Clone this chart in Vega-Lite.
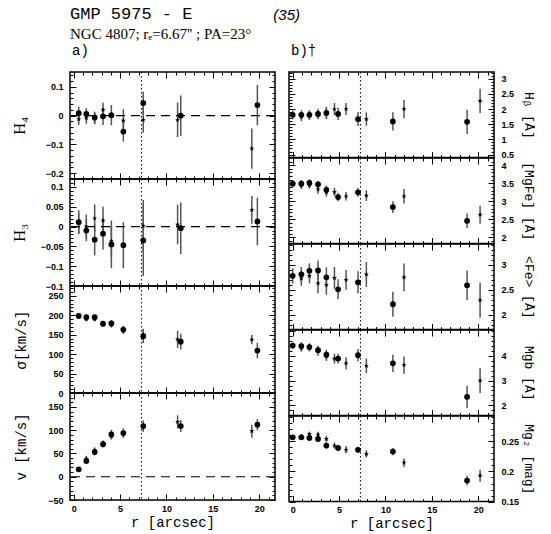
{
"$schema":"https://vega.github.io/schema/vega-lite/v6.json",
"padding":{"left":9,"top":4,"right":5,"bottom":5},
"datasets":{"pts":[
{"p":"H4","t":"c","r":0.54,"v":0.009,"e":0.022},{"p":"H4","t":"c","r":1.36,"v":0.006,"e":0.02},{"p":"H4","t":"c","r":2.26,"v":-0.006,"e":0.02},{"p":"H4","t":"c","r":3.16,"v":-0.002,"e":0.03},{"p":"H4","t":"c","r":4.06,"v":0.002,"e":0.035},{"p":"H4","t":"c","r":5.35,"v":-0.055,"e":0.035},{"p":"H4","t":"c","r":7.5,"v":0.044,"e":0.04},{"p":"H4","t":"c","r":11.54,"v":0,"e":0.07},{"p":"H4","t":"c","r":19.8,"v":0.037,"e":0.07},
{"p":"H4","t":"s","r":0.54,"v":-0.012,"e":0.02},{"p":"H4","t":"s","r":1.36,"v":-0.008,"e":0.02},{"p":"H4","t":"s","r":2.26,"v":-0.01,"e":0.02},{"p":"H4","t":"s","r":3.16,"v":0.02,"e":0.025},{"p":"H4","t":"s","r":5.35,"v":-0.017,"e":0.04},{"p":"H4","t":"s","r":7.5,"v":-0.014,"e":0.045},{"p":"H4","t":"s","r":11.2,"v":-0.014,"e":0.06},{"p":"H4","t":"s","r":19.2,"v":-0.114,"e":0.07},
{"p":"H3","t":"c","r":0.54,"v":0.011,"e":0.03},{"p":"H3","t":"c","r":1.36,"v":-0.01,"e":0.027},{"p":"H3","t":"c","r":2.26,"v":-0.033,"e":0.04},{"p":"H3","t":"c","r":3.16,"v":-0.018,"e":0.04},{"p":"H3","t":"c","r":4.06,"v":-0.045,"e":0.06},{"p":"H3","t":"c","r":5.35,"v":-0.047,"e":0.058},{"p":"H3","t":"c","r":7.5,"v":-0.035,"e":0.09},{"p":"H3","t":"c","r":11.54,"v":-0.004,"e":0.065},{"p":"H3","t":"c","r":19.8,"v":0.013,"e":0.06},
{"p":"H3","t":"s","r":0.54,"v":0.009,"e":0.025},{"p":"H3","t":"s","r":1.36,"v":0,"e":0.03},{"p":"H3","t":"s","r":2.26,"v":0.021,"e":0.035},{"p":"H3","t":"s","r":3.16,"v":0.015,"e":0.035},{"p":"H3","t":"s","r":4.06,"v":-0.037,"e":0.04},{"p":"H3","t":"s","r":7.5,"v":0.002,"e":0.065},{"p":"H3","t":"s","r":11.2,"v":0.005,"e":0.05},{"p":"H3","t":"s","r":19.2,"v":0.042,"e":0.035},
{"p":"sig","t":"c","r":0.54,"v":198,"e":6},{"p":"sig","t":"c","r":1.36,"v":195,"e":7},{"p":"sig","t":"c","r":2.26,"v":195,"e":7},{"p":"sig","t":"c","r":3.16,"v":178,"e":7},{"p":"sig","t":"c","r":4.06,"v":179,"e":8},{"p":"sig","t":"c","r":5.35,"v":163,"e":10},{"p":"sig","t":"c","r":7.5,"v":146,"e":18},{"p":"sig","t":"c","r":11.54,"v":132,"e":20},{"p":"sig","t":"c","r":19.8,"v":109,"e":20},
{"p":"sig","t":"s","r":0.54,"v":196,"e":5},{"p":"sig","t":"s","r":1.36,"v":190,"e":6},{"p":"sig","t":"s","r":2.26,"v":190,"e":6},{"p":"sig","t":"s","r":3.16,"v":176,"e":6},{"p":"sig","t":"s","r":4.06,"v":175,"e":7},{"p":"sig","t":"s","r":5.35,"v":160,"e":8},{"p":"sig","t":"s","r":7.5,"v":150,"e":15},{"p":"sig","t":"s","r":11.2,"v":138,"e":22},{"p":"sig","t":"s","r":19.2,"v":137,"e":12},
{"p":"v","t":"c","r":0.54,"v":16,"e":5},{"p":"v","t":"c","r":1.36,"v":34,"e":6},{"p":"v","t":"c","r":2.26,"v":53,"e":7},{"p":"v","t":"c","r":3.16,"v":70,"e":7},{"p":"v","t":"c","r":4.06,"v":91,"e":10},{"p":"v","t":"c","r":5.35,"v":94,"e":10},{"p":"v","t":"c","r":7.5,"v":109,"e":12},{"p":"v","t":"c","r":11.54,"v":109,"e":13},{"p":"v","t":"c","r":19.8,"v":112,"e":12},
{"p":"v","t":"s","r":0.54,"v":15,"e":4},{"p":"v","t":"s","r":1.36,"v":39,"e":6},{"p":"v","t":"s","r":2.26,"v":57,"e":6},{"p":"v","t":"s","r":3.16,"v":72,"e":6},{"p":"v","t":"s","r":4.06,"v":88,"e":8},{"p":"v","t":"s","r":5.35,"v":92,"e":8},{"p":"v","t":"s","r":7.5,"v":107,"e":10},{"p":"v","t":"s","r":11.2,"v":118,"e":14},{"p":"v","t":"s","r":19.2,"v":98,"e":14},
{"p":"Hb","t":"c","r":0,"v":1.81,"e":0.15},{"p":"Hb","t":"c","r":0.93,"v":1.81,"e":0.15},{"p":"Hb","t":"c","r":1.8,"v":1.81,"e":0.15},{"p":"Hb","t":"c","r":2.73,"v":1.84,"e":0.17},{"p":"Hb","t":"c","r":3.63,"v":1.87,"e":0.2},{"p":"Hb","t":"c","r":4.89,"v":1.84,"e":0.2},{"p":"Hb","t":"c","r":7.04,"v":1.67,"e":0.23},{"p":"Hb","t":"c","r":10.8,"v":1.59,"e":0.3},{"p":"Hb","t":"c","r":18.8,"v":1.58,"e":0.4},
{"p":"Hb","t":"s","r":0.93,"v":1.75,"e":0.15},{"p":"Hb","t":"s","r":1.8,"v":1.79,"e":0.15},{"p":"Hb","t":"s","r":2.73,"v":1.82,"e":0.15},{"p":"Hb","t":"s","r":3.63,"v":1.85,"e":0.18},{"p":"Hb","t":"s","r":4.5,"v":2.0,"e":0.2},{"p":"Hb","t":"s","r":5.75,"v":2.0,"e":0.2},{"p":"Hb","t":"s","r":7.94,"v":1.67,"e":0.22},{"p":"Hb","t":"s","r":12.0,"v":2.0,"e":0.3},{"p":"Hb","t":"s","r":20.2,"v":2.27,"e":0.4},
{"p":"MgFe","t":"c","r":0,"v":3.49,"e":0.1},{"p":"MgFe","t":"c","r":0.93,"v":3.49,"e":0.1},{"p":"MgFe","t":"c","r":1.8,"v":3.51,"e":0.1},{"p":"MgFe","t":"c","r":2.73,"v":3.47,"e":0.1},{"p":"MgFe","t":"c","r":3.63,"v":3.32,"e":0.12},{"p":"MgFe","t":"c","r":4.89,"v":3.12,"e":0.12},{"p":"MgFe","t":"c","r":7.04,"v":3.25,"e":0.12},{"p":"MgFe","t":"c","r":10.8,"v":2.84,"e":0.16},{"p":"MgFe","t":"c","r":18.8,"v":2.46,"e":0.2},
{"p":"MgFe","t":"s","r":0.93,"v":3.44,"e":0.1},{"p":"MgFe","t":"s","r":1.8,"v":3.45,"e":0.1},{"p":"MgFe","t":"s","r":2.73,"v":3.33,"e":0.12},{"p":"MgFe","t":"s","r":3.63,"v":3.25,"e":0.12},{"p":"MgFe","t":"s","r":4.5,"v":3.26,"e":0.12},{"p":"MgFe","t":"s","r":5.75,"v":3.14,"e":0.12},{"p":"MgFe","t":"s","r":7.94,"v":3.16,"e":0.15},{"p":"MgFe","t":"s","r":12.0,"v":3.14,"e":0.2},{"p":"MgFe","t":"s","r":20.2,"v":2.63,"e":0.25},
{"p":"Fe","t":"c","r":0,"v":2.78,"e":0.15},{"p":"Fe","t":"c","r":0.93,"v":2.81,"e":0.15},{"p":"Fe","t":"c","r":1.8,"v":2.88,"e":0.15},{"p":"Fe","t":"c","r":2.73,"v":2.89,"e":0.2},{"p":"Fe","t":"c","r":3.63,"v":2.75,"e":0.2},{"p":"Fe","t":"c","r":4.89,"v":2.51,"e":0.2},{"p":"Fe","t":"c","r":7.04,"v":2.65,"e":0.22},{"p":"Fe","t":"c","r":10.8,"v":2.21,"e":0.25},{"p":"Fe","t":"c","r":18.8,"v":2.59,"e":0.3},
{"p":"Fe","t":"s","r":0.93,"v":2.73,"e":0.15},{"p":"Fe","t":"s","r":1.8,"v":2.78,"e":0.15},{"p":"Fe","t":"s","r":2.73,"v":2.63,"e":0.2},{"p":"Fe","t":"s","r":3.63,"v":2.6,"e":0.2},{"p":"Fe","t":"s","r":4.5,"v":2.74,"e":0.22},{"p":"Fe","t":"s","r":5.75,"v":2.7,"e":0.2},{"p":"Fe","t":"s","r":7.94,"v":2.81,"e":0.25},{"p":"Fe","t":"s","r":12.0,"v":2.75,"e":0.28},{"p":"Fe","t":"s","r":20.2,"v":2.29,"e":0.35},
{"p":"Mgb","t":"c","r":0,"v":4.42,"e":0.12},{"p":"Mgb","t":"c","r":0.93,"v":4.4,"e":0.15},{"p":"Mgb","t":"c","r":1.8,"v":4.36,"e":0.15},{"p":"Mgb","t":"c","r":2.73,"v":4.23,"e":0.18},{"p":"Mgb","t":"c","r":3.63,"v":4.05,"e":0.2},{"p":"Mgb","t":"c","r":4.89,"v":3.89,"e":0.2},{"p":"Mgb","t":"c","r":7.04,"v":4.03,"e":0.25},{"p":"Mgb","t":"c","r":10.8,"v":3.7,"e":0.35},{"p":"Mgb","t":"c","r":18.8,"v":2.34,"e":0.45},
{"p":"Mgb","t":"s","r":0.93,"v":4.32,"e":0.15},{"p":"Mgb","t":"s","r":1.8,"v":4.33,"e":0.15},{"p":"Mgb","t":"s","r":2.73,"v":4.19,"e":0.18},{"p":"Mgb","t":"s","r":3.63,"v":3.99,"e":0.2},{"p":"Mgb","t":"s","r":4.5,"v":3.89,"e":0.2},{"p":"Mgb","t":"s","r":5.75,"v":3.7,"e":0.25},{"p":"Mgb","t":"s","r":7.94,"v":3.6,"e":0.3},{"p":"Mgb","t":"s","r":12.0,"v":3.63,"e":0.35},{"p":"Mgb","t":"s","r":20.2,"v":3.0,"e":0.5},
{"p":"Mg2","t":"c","r":0,"v":0.2567,"e":0.004},{"p":"Mg2","t":"c","r":0.93,"v":0.2567,"e":0.004},{"p":"Mg2","t":"c","r":1.8,"v":0.2556,"e":0.004},{"p":"Mg2","t":"c","r":2.73,"v":0.254,"e":0.005},{"p":"Mg2","t":"c","r":3.63,"v":0.243,"e":0.005},{"p":"Mg2","t":"c","r":4.89,"v":0.239,"e":0.005},{"p":"Mg2","t":"c","r":7.04,"v":0.236,"e":0.005},{"p":"Mg2","t":"c","r":10.8,"v":0.233,"e":0.006},{"p":"Mg2","t":"c","r":18.8,"v":0.185,"e":0.008},
{"p":"Mg2","t":"s","r":0.93,"v":0.258,"e":0.004},{"p":"Mg2","t":"s","r":1.8,"v":0.262,"e":0.004},{"p":"Mg2","t":"s","r":2.73,"v":0.261,"e":0.005},{"p":"Mg2","t":"s","r":3.63,"v":0.254,"e":0.005},{"p":"Mg2","t":"s","r":4.5,"v":0.243,"e":0.005},{"p":"Mg2","t":"s","r":5.75,"v":0.236,"e":0.006},{"p":"Mg2","t":"s","r":7.94,"v":0.229,"e":0.006},{"p":"Mg2","t":"s","r":12.0,"v":0.2146,"e":0.007},{"p":"Mg2","t":"s","r":20.2,"v":0.193,"e":0.01}
]},
"data":{"name":"pts"},
"title":{"text":"GMP 5975 - E","subtitle":"NGC 4807; rₑ=6.67'' ; PA=23°","anchor":"start","frame":"group","font":"Liberation Mono","fontSize":17,"fontWeight":"normal","color":"black","subtitleFont":"Liberation Serif","subtitleFontSize":15,"subtitleColor":"black","subtitlePadding":4,"offset":0,"dy":35},
"spacing":-4,
"hconcat":[
{"spacing":0,"bounds":"flush",
"vconcat":[
{"width":205,"height":107,
"title":{"text":"a)","anchor":"start","frame":"group","font":"Liberation Mono","fontSize":14,"fontWeight":"normal","color":"black","offset":14,"dx":2},
"layer":[
{"transform":[{"filter":"datum.p==='H4'&&datum.t==='c'"}],"mark":{"type":"errorbar","ticks":false,"color":"#555","thickness":1.5},
"encoding":{"x":{"field":"r","type":"quantitative","scale":{"domain":[-0.4,21.7],"nice":false,"zero":false},"axis":{"orient":"bottom","values":[0,5,10,15,20],"tickSize":-6,"labels":false,"title":null}},
"y":{"field":"v","type":"quantitative","scale":{"domain":[-0.22,0.152],"nice":false,"zero":false},"axis":{"orient":"left","values":[-0.2,-0.1,0,0.1],"tickSize":-6,"labelPadding":13,"format":"~r","title":"H₄","titleFont":"Liberation Serif","titleFontSize":17,"titleX":-42}},
"yError":{"field":"e"}}},
{"transform":[{"filter":"datum.p==='H4'&&datum.t==='s'"}],"mark":{"type":"errorbar","ticks":false,"color":"#555","thickness":1.5},
"encoding":{"x":{"field":"r","type":"quantitative","scale":{"domain":[-0.4,21.7],"nice":false,"zero":false},"axis":{"orient":"top","values":[0,5,10,15,20],"tickSize":-6,"labels":false,"title":null}},
"y":{"field":"v","type":"quantitative","scale":{"domain":[-0.22,0.152],"nice":false,"zero":false},"axis":{"orient":"right","values":[-0.2,-0.1,0,0.1],"tickSize":-6,"labels":false,"title":null}},
"yError":{"field":"e"}}},
{"transform":[{"filter":"datum.p==='H4'&&datum.t==='c'"}],"mark":{"type":"point","shape":"circle","filled":true,"size":33,"color":"black","opacity":1},
"encoding":{"x":{"field":"r","type":"quantitative","scale":{"domain":[-0.4,21.7],"nice":false,"zero":false},"axis":{"orient":"bottom","values":[0,1,2,3,4,5,6,7,8,9,10,11,12,13,14,15,16,17,18,19,20,21],"tickSize":-3,"labels":false,"title":null}},
"y":{"field":"v","type":"quantitative","scale":{"domain":[-0.22,0.152],"nice":false,"zero":false},"axis":{"orient":"left","values":[-0.22,-0.2,-0.18,-0.16,-0.14,-0.12,-0.1,-0.08,-0.06,-0.04,-0.02,0,0.02,0.04,0.06,0.08,0.1,0.12,0.14],"tickSize":-3,"labels":false,"title":null}}}},
{"transform":[{"filter":"datum.p==='H4'&&datum.t==='s'"}],"mark":{"type":"point","shape":"M0,-1L0.235,-0.324L0.951,-0.309L0.38,0.124L0.588,0.809L0,0.4L-0.588,0.809L-0.38,0.124L-0.951,-0.309L-0.235,-0.324Z","filled":true,"size":28,"color":"black","opacity":1},
"encoding":{"x":{"field":"r","type":"quantitative","scale":{"domain":[-0.4,21.7],"nice":false,"zero":false},"axis":{"orient":"top","values":[0,1,2,3,4,5,6,7,8,9,10,11,12,13,14,15,16,17,18,19,20,21],"tickSize":-3,"labels":false,"title":null}},
"y":{"field":"v","type":"quantitative","scale":{"domain":[-0.22,0.152],"nice":false,"zero":false},"axis":{"orient":"right","values":[-0.22,-0.2,-0.18,-0.16,-0.14,-0.12,-0.1,-0.08,-0.06,-0.04,-0.02,0,0.02,0.04,0.06,0.08,0.1,0.12,0.14],"tickSize":-3,"labels":false,"title":null}}}},
{"data":{"values":[{}]},"mark":{"type":"rule","strokeDash":[9,6],"color":"black","strokeWidth":1.2},"encoding":{"y":{"datum":0,"type":"quantitative","scale":{"domain":[-0.22,0.152],"nice":false,"zero":false},"axis":null}}},
{"data":{"values":[{}]},"mark":{"type":"rule","strokeDash":[1.5,2.5],"color":"black","strokeWidth":1},"encoding":{"x":{"datum":7.3,"type":"quantitative","scale":{"domain":[-0.4,21.7],"nice":false,"zero":false},"axis":null}}}
],
"resolve":{"axis":{"x":"independent","y":"independent"}}},
{"width":205,"height":107,
"layer":[
{"transform":[{"filter":"datum.p==='H3'&&datum.t==='c'"}],"mark":{"type":"errorbar","ticks":false,"color":"#555","thickness":1.5},
"encoding":{"x":{"field":"r","type":"quantitative","scale":{"domain":[-0.4,21.7],"nice":false,"zero":false},"axis":{"orient":"bottom","values":[0,5,10,15,20],"tickSize":-6,"labels":false,"title":null}},
"y":{"field":"v","type":"quantitative","scale":{"domain":[-0.15,0.12],"nice":false,"zero":false},"axis":{"orient":"left","values":[-0.15,-0.1,-0.05,0,0.05,0.1],"tickSize":-6,"labelPadding":13,"format":"~r","title":"H₃","titleFont":"Liberation Serif","titleFontSize":17,"titleX":-42}},
"yError":{"field":"e"}}},
{"transform":[{"filter":"datum.p==='H3'&&datum.t==='s'"}],"mark":{"type":"errorbar","ticks":false,"color":"#555","thickness":1.5},
"encoding":{"x":{"field":"r","type":"quantitative","scale":{"domain":[-0.4,21.7],"nice":false,"zero":false},"axis":{"orient":"top","values":[0,5,10,15,20],"tickSize":-6,"labels":false,"title":null}},
"y":{"field":"v","type":"quantitative","scale":{"domain":[-0.15,0.12],"nice":false,"zero":false},"axis":{"orient":"right","values":[-0.15,-0.1,-0.05,0,0.05,0.1],"tickSize":-6,"labels":false,"title":null}},
"yError":{"field":"e"}}},
{"transform":[{"filter":"datum.p==='H3'&&datum.t==='c'"}],"mark":{"type":"point","shape":"circle","filled":true,"size":33,"color":"black","opacity":1},
"encoding":{"x":{"field":"r","type":"quantitative","scale":{"domain":[-0.4,21.7],"nice":false,"zero":false},"axis":{"orient":"bottom","values":[0,1,2,3,4,5,6,7,8,9,10,11,12,13,14,15,16,17,18,19,20,21],"tickSize":-3,"labels":false,"title":null}},
"y":{"field":"v","type":"quantitative","scale":{"domain":[-0.15,0.12],"nice":false,"zero":false},"axis":{"orient":"left","values":[-0.14,-0.13,-0.12,-0.11,-0.09,-0.08,-0.07,-0.06,-0.04,-0.03,-0.02,-0.01,0.01,0.02,0.03,0.04,0.06,0.07,0.08,0.09,0.11],"tickSize":-3,"labels":false,"title":null}}}},
{"transform":[{"filter":"datum.p==='H3'&&datum.t==='s'"}],"mark":{"type":"point","shape":"M0,-1L0.235,-0.324L0.951,-0.309L0.38,0.124L0.588,0.809L0,0.4L-0.588,0.809L-0.38,0.124L-0.951,-0.309L-0.235,-0.324Z","filled":true,"size":28,"color":"black","opacity":1},
"encoding":{"x":{"field":"r","type":"quantitative","scale":{"domain":[-0.4,21.7],"nice":false,"zero":false},"axis":{"orient":"top","values":[0,1,2,3,4,5,6,7,8,9,10,11,12,13,14,15,16,17,18,19,20,21],"tickSize":-3,"labels":false,"title":null}},
"y":{"field":"v","type":"quantitative","scale":{"domain":[-0.15,0.12],"nice":false,"zero":false},"axis":{"orient":"right","values":[-0.14,-0.13,-0.12,-0.11,-0.09,-0.08,-0.07,-0.06,-0.04,-0.03,-0.02,-0.01,0.01,0.02,0.03,0.04,0.06,0.07,0.08,0.09,0.11],"tickSize":-3,"labels":false,"title":null}}}},
{"data":{"values":[{}]},"mark":{"type":"rule","strokeDash":[9,6],"color":"black","strokeWidth":1.2},"encoding":{"y":{"datum":0,"type":"quantitative","scale":{"domain":[-0.15,0.12],"nice":false,"zero":false},"axis":null}}},
{"data":{"values":[{}]},"mark":{"type":"rule","strokeDash":[1.5,2.5],"color":"black","strokeWidth":1},"encoding":{"x":{"datum":7.3,"type":"quantitative","scale":{"domain":[-0.4,21.7],"nice":false,"zero":false},"axis":null}}}
],
"resolve":{"axis":{"x":"independent","y":"independent"}}},
{"width":205,"height":107,
"layer":[
{"transform":[{"filter":"datum.p==='sig'&&datum.t==='c'"}],"mark":{"type":"errorbar","ticks":false,"color":"#555","thickness":1.5},
"encoding":{"x":{"field":"r","type":"quantitative","scale":{"domain":[-0.4,21.7],"nice":false,"zero":false},"axis":{"orient":"bottom","values":[0,5,10,15,20],"tickSize":-6,"labels":false,"title":null}},
"y":{"field":"v","type":"quantitative","scale":{"domain":[0,275],"nice":false,"zero":false},"axis":{"orient":"left","values":[0,50,100,150,200,250],"tickSize":-6,"labelPadding":13,"format":"~r","title":"σ[km/s]","titleX":-42}},
"yError":{"field":"e"}}},
{"transform":[{"filter":"datum.p==='sig'&&datum.t==='s'"}],"mark":{"type":"errorbar","ticks":false,"color":"#555","thickness":1.5},
"encoding":{"x":{"field":"r","type":"quantitative","scale":{"domain":[-0.4,21.7],"nice":false,"zero":false},"axis":{"orient":"top","values":[0,5,10,15,20],"tickSize":-6,"labels":false,"title":null}},
"y":{"field":"v","type":"quantitative","scale":{"domain":[0,275],"nice":false,"zero":false},"axis":{"orient":"right","values":[0,50,100,150,200,250],"tickSize":-6,"labels":false,"title":null}},
"yError":{"field":"e"}}},
{"transform":[{"filter":"datum.p==='sig'&&datum.t==='c'"}],"mark":{"type":"point","shape":"circle","filled":true,"size":33,"color":"black","opacity":1},
"encoding":{"x":{"field":"r","type":"quantitative","scale":{"domain":[-0.4,21.7],"nice":false,"zero":false},"axis":{"orient":"bottom","values":[0,1,2,3,4,5,6,7,8,9,10,11,12,13,14,15,16,17,18,19,20,21],"tickSize":-3,"labels":false,"title":null}},
"y":{"field":"v","type":"quantitative","scale":{"domain":[0,275],"nice":false,"zero":false},"axis":{"orient":"left","values":[10,20,30,40,60,70,80,90,110,120,130,140,160,170,180,190,210,220,230,240,260,270],"tickSize":-3,"labels":false,"title":null}}}},
{"transform":[{"filter":"datum.p==='sig'&&datum.t==='s'"}],"mark":{"type":"point","shape":"M0,-1L0.235,-0.324L0.951,-0.309L0.38,0.124L0.588,0.809L0,0.4L-0.588,0.809L-0.38,0.124L-0.951,-0.309L-0.235,-0.324Z","filled":true,"size":28,"color":"black","opacity":1},
"encoding":{"x":{"field":"r","type":"quantitative","scale":{"domain":[-0.4,21.7],"nice":false,"zero":false},"axis":{"orient":"top","values":[0,1,2,3,4,5,6,7,8,9,10,11,12,13,14,15,16,17,18,19,20,21],"tickSize":-3,"labels":false,"title":null}},
"y":{"field":"v","type":"quantitative","scale":{"domain":[0,275],"nice":false,"zero":false},"axis":{"orient":"right","values":[10,20,30,40,60,70,80,90,110,120,130,140,160,170,180,190,210,220,230,240,260,270],"tickSize":-3,"labels":false,"title":null}}}},
{"data":{"values":[{}]},"mark":{"type":"rule","strokeDash":[1.5,2.5],"color":"black","strokeWidth":1},"encoding":{"x":{"datum":7.3,"type":"quantitative","scale":{"domain":[-0.4,21.7],"nice":false,"zero":false},"axis":null}}}
],
"resolve":{"axis":{"x":"independent","y":"independent"}}},
{"width":205,"height":107,
"layer":[
{"transform":[{"filter":"datum.p==='v'&&datum.t==='c'"}],"mark":{"type":"errorbar","ticks":false,"color":"#555","thickness":1.5},
"encoding":{"x":{"field":"r","type":"quantitative","scale":{"domain":[-0.4,21.7],"nice":false,"zero":false},"axis":{"orient":"bottom","values":[0,5,10,15,20],"tickSize":-6,"labelPadding":10,"format":"~r","title":"r [arcsec]","titlePadding":2}},
"y":{"field":"v","type":"quantitative","scale":{"domain":[-50,180],"nice":false,"zero":false},"axis":{"orient":"left","values":[-50,0,50,100,150],"tickSize":-6,"labelPadding":13,"format":"~r","title":"v [km/s]","titleX":-42}},
"yError":{"field":"e"}}},
{"transform":[{"filter":"datum.p==='v'&&datum.t==='s'"}],"mark":{"type":"errorbar","ticks":false,"color":"#555","thickness":1.5},
"encoding":{"x":{"field":"r","type":"quantitative","scale":{"domain":[-0.4,21.7],"nice":false,"zero":false},"axis":{"orient":"top","values":[0,5,10,15,20],"tickSize":-6,"labels":false,"title":null}},
"y":{"field":"v","type":"quantitative","scale":{"domain":[-50,180],"nice":false,"zero":false},"axis":{"orient":"right","values":[-50,0,50,100,150],"tickSize":-6,"labels":false,"title":null}},
"yError":{"field":"e"}}},
{"transform":[{"filter":"datum.p==='v'&&datum.t==='c'"}],"mark":{"type":"point","shape":"circle","filled":true,"size":33,"color":"black","opacity":1},
"encoding":{"x":{"field":"r","type":"quantitative","scale":{"domain":[-0.4,21.7],"nice":false,"zero":false},"axis":{"orient":"bottom","values":[0,1,2,3,4,5,6,7,8,9,10,11,12,13,14,15,16,17,18,19,20,21],"tickSize":-3,"labels":false,"title":null}},
"y":{"field":"v","type":"quantitative","scale":{"domain":[-50,180],"nice":false,"zero":false},"axis":{"orient":"left","values":[-40,-30,-20,-10,10,20,30,40,60,70,80,90,110,120,130,140,160,170],"tickSize":-3,"labels":false,"title":null}}}},
{"transform":[{"filter":"datum.p==='v'&&datum.t==='s'"}],"mark":{"type":"point","shape":"M0,-1L0.235,-0.324L0.951,-0.309L0.38,0.124L0.588,0.809L0,0.4L-0.588,0.809L-0.38,0.124L-0.951,-0.309L-0.235,-0.324Z","filled":true,"size":28,"color":"black","opacity":1},
"encoding":{"x":{"field":"r","type":"quantitative","scale":{"domain":[-0.4,21.7],"nice":false,"zero":false},"axis":{"orient":"top","values":[0,1,2,3,4,5,6,7,8,9,10,11,12,13,14,15,16,17,18,19,20,21],"tickSize":-3,"labels":false,"title":null}},
"y":{"field":"v","type":"quantitative","scale":{"domain":[-50,180],"nice":false,"zero":false},"axis":{"orient":"right","values":[-40,-30,-20,-10,10,20,30,40,60,70,80,90,110,120,130,140,160,170],"tickSize":-3,"labels":false,"title":null}}}},
{"data":{"values":[{}]},"mark":{"type":"rule","strokeDash":[9,6],"color":"black","strokeWidth":1.2},"encoding":{"y":{"datum":0,"type":"quantitative","scale":{"domain":[-50,180],"nice":false,"zero":false},"axis":null}}},
{"data":{"values":[{}]},"mark":{"type":"rule","strokeDash":[1.5,2.5],"color":"black","strokeWidth":1},"encoding":{"x":{"datum":7.3,"type":"quantitative","scale":{"domain":[-0.4,21.7],"nice":false,"zero":false},"axis":null}}}
],
"resolve":{"axis":{"x":"independent","y":"independent"}}}
]},
{"spacing":0,"bounds":"flush",
"title":{"text":"(35)","anchor":"end","frame":"group","font":"Liberation Sans","fontStyle":"italic","fontSize":15,"fontWeight":"normal","color":"black","offset":0,"dy":-20,"dx":11},
"vconcat":[
{"width":205,"height":85.6,
"title":{"text":"b)†","anchor":"start","frame":"group","font":"Liberation Mono","fontSize":14,"fontWeight":"normal","color":"black","offset":14,"dx":2},
"layer":[
{"transform":[{"filter":"datum.p==='Hb'&&datum.t==='c'"}],"mark":{"type":"errorbar","ticks":false,"color":"#555","thickness":1.5},
"encoding":{"x":{"field":"r","type":"quantitative","scale":{"domain":[-0.4,21.7],"nice":false,"zero":false},"axis":{"orient":"bottom","values":[0,5,10,15,20],"tickSize":-6,"labels":false,"title":null}},
"y":{"field":"v","type":"quantitative","scale":{"domain":[0.4,3.22],"nice":false,"zero":false},"axis":{"orient":"left","values":[0.5,1,1.5,2,2.5,3],"tickSize":-6,"labels":false,"title":null}},
"yError":{"field":"e"}}},
{"transform":[{"filter":"datum.p==='Hb'&&datum.t==='s'"}],"mark":{"type":"errorbar","ticks":false,"color":"#555","thickness":1.5},
"encoding":{"x":{"field":"r","type":"quantitative","scale":{"domain":[-0.4,21.7],"nice":false,"zero":false},"axis":{"orient":"top","values":[0,5,10,15,20],"tickSize":-6,"labels":false,"title":null}},
"y":{"field":"v","type":"quantitative","scale":{"domain":[0.4,3.22],"nice":false,"zero":false},"axis":{"orient":"right","values":[0.5,1,1.5,2,2.5,3],"tickSize":-6,"labelPadding":13,"format":"~r","title":"Hᵦ [Å]","titleFontSize":13,"titleX":27}},
"yError":{"field":"e"}}},
{"transform":[{"filter":"datum.p==='Hb'&&datum.t==='c'"}],"mark":{"type":"point","shape":"circle","filled":true,"size":33,"color":"black","opacity":1},
"encoding":{"x":{"field":"r","type":"quantitative","scale":{"domain":[-0.4,21.7],"nice":false,"zero":false},"axis":{"orient":"bottom","values":[0,1,2,3,4,5,6,7,8,9,10,11,12,13,14,15,16,17,18,19,20,21],"tickSize":-3,"labels":false,"title":null}},
"y":{"field":"v","type":"quantitative","scale":{"domain":[0.4,3.22],"nice":false,"zero":false},"axis":{"orient":"left","values":[0.6,0.7,0.8,0.9,1.1,1.2,1.3,1.4,1.6,1.7,1.8,1.9,2.1,2.2,2.3,2.4,2.6,2.7,2.8,2.9,3.1,3.2],"tickSize":-3,"labels":false,"title":null}}}},
{"transform":[{"filter":"datum.p==='Hb'&&datum.t==='s'"}],"mark":{"type":"point","shape":"M0,-1L0.235,-0.324L0.951,-0.309L0.38,0.124L0.588,0.809L0,0.4L-0.588,0.809L-0.38,0.124L-0.951,-0.309L-0.235,-0.324Z","filled":true,"size":28,"color":"black","opacity":1},
"encoding":{"x":{"field":"r","type":"quantitative","scale":{"domain":[-0.4,21.7],"nice":false,"zero":false},"axis":{"orient":"top","values":[0,1,2,3,4,5,6,7,8,9,10,11,12,13,14,15,16,17,18,19,20,21],"tickSize":-3,"labels":false,"title":null}},
"y":{"field":"v","type":"quantitative","scale":{"domain":[0.4,3.22],"nice":false,"zero":false},"axis":{"orient":"right","values":[0.6,0.7,0.8,0.9,1.1,1.2,1.3,1.4,1.6,1.7,1.8,1.9,2.1,2.2,2.3,2.4,2.6,2.7,2.8,2.9,3.1,3.2],"tickSize":-3,"labels":false,"title":null}}}},
{"data":{"values":[{}]},"mark":{"type":"rule","strokeDash":[1.5,2.5],"color":"black","strokeWidth":1},"encoding":{"x":{"datum":7.3,"type":"quantitative","scale":{"domain":[-0.4,21.7],"nice":false,"zero":false},"axis":null}}}
],
"resolve":{"axis":{"x":"independent","y":"independent"}}},
{"width":205,"height":85.6,
"layer":[
{"transform":[{"filter":"datum.p==='MgFe'&&datum.t==='c'"}],"mark":{"type":"errorbar","ticks":false,"color":"#555","thickness":1.5},
"encoding":{"x":{"field":"r","type":"quantitative","scale":{"domain":[-0.4,21.7],"nice":false,"zero":false},"axis":{"orient":"bottom","values":[0,5,10,15,20],"tickSize":-6,"labels":false,"title":null}},
"y":{"field":"v","type":"quantitative","scale":{"domain":[1.83,4.2],"nice":false,"zero":false},"axis":{"orient":"left","values":[2,2.5,3,3.5,4],"tickSize":-6,"labels":false,"title":null}},
"yError":{"field":"e"}}},
{"transform":[{"filter":"datum.p==='MgFe'&&datum.t==='s'"}],"mark":{"type":"errorbar","ticks":false,"color":"#555","thickness":1.5},
"encoding":{"x":{"field":"r","type":"quantitative","scale":{"domain":[-0.4,21.7],"nice":false,"zero":false},"axis":{"orient":"top","values":[0,5,10,15,20],"tickSize":-6,"labels":false,"title":null}},
"y":{"field":"v","type":"quantitative","scale":{"domain":[1.83,4.2],"nice":false,"zero":false},"axis":{"orient":"right","values":[2,2.5,3,3.5,4],"tickSize":-6,"labelPadding":13,"format":"~r","title":"[MgFe] [Å]","titleFontSize":13,"titleX":27}},
"yError":{"field":"e"}}},
{"transform":[{"filter":"datum.p==='MgFe'&&datum.t==='c'"}],"mark":{"type":"point","shape":"circle","filled":true,"size":33,"color":"black","opacity":1},
"encoding":{"x":{"field":"r","type":"quantitative","scale":{"domain":[-0.4,21.7],"nice":false,"zero":false},"axis":{"orient":"bottom","values":[0,1,2,3,4,5,6,7,8,9,10,11,12,13,14,15,16,17,18,19,20,21],"tickSize":-3,"labels":false,"title":null}},
"y":{"field":"v","type":"quantitative","scale":{"domain":[1.83,4.2],"nice":false,"zero":false},"axis":{"orient":"left","values":[1.9,2.1,2.2,2.3,2.4,2.6,2.7,2.8,2.9,3.1,3.2,3.3,3.4,3.6,3.7,3.8,3.9,4.1],"tickSize":-3,"labels":false,"title":null}}}},
{"transform":[{"filter":"datum.p==='MgFe'&&datum.t==='s'"}],"mark":{"type":"point","shape":"M0,-1L0.235,-0.324L0.951,-0.309L0.38,0.124L0.588,0.809L0,0.4L-0.588,0.809L-0.38,0.124L-0.951,-0.309L-0.235,-0.324Z","filled":true,"size":28,"color":"black","opacity":1},
"encoding":{"x":{"field":"r","type":"quantitative","scale":{"domain":[-0.4,21.7],"nice":false,"zero":false},"axis":{"orient":"top","values":[0,1,2,3,4,5,6,7,8,9,10,11,12,13,14,15,16,17,18,19,20,21],"tickSize":-3,"labels":false,"title":null}},
"y":{"field":"v","type":"quantitative","scale":{"domain":[1.83,4.2],"nice":false,"zero":false},"axis":{"orient":"right","values":[1.9,2.1,2.2,2.3,2.4,2.6,2.7,2.8,2.9,3.1,3.2,3.3,3.4,3.6,3.7,3.8,3.9,4.1],"tickSize":-3,"labels":false,"title":null}}}},
{"data":{"values":[{}]},"mark":{"type":"rule","strokeDash":[1.5,2.5],"color":"black","strokeWidth":1},"encoding":{"x":{"datum":7.3,"type":"quantitative","scale":{"domain":[-0.4,21.7],"nice":false,"zero":false},"axis":null}}}
],
"resolve":{"axis":{"x":"independent","y":"independent"}}},
{"width":205,"height":85.6,
"layer":[
{"transform":[{"filter":"datum.p==='Fe'&&datum.t==='c'"}],"mark":{"type":"errorbar","ticks":false,"color":"#555","thickness":1.5},
"encoding":{"x":{"field":"r","type":"quantitative","scale":{"domain":[-0.4,21.7],"nice":false,"zero":false},"axis":{"orient":"bottom","values":[0,5,10,15,20],"tickSize":-6,"labels":false,"title":null}},
"y":{"field":"v","type":"quantitative","scale":{"domain":[1.7,3.42],"nice":false,"zero":false},"axis":{"orient":"left","values":[2,2.5,3],"tickSize":-6,"labels":false,"title":null}},
"yError":{"field":"e"}}},
{"transform":[{"filter":"datum.p==='Fe'&&datum.t==='s'"}],"mark":{"type":"errorbar","ticks":false,"color":"#555","thickness":1.5},
"encoding":{"x":{"field":"r","type":"quantitative","scale":{"domain":[-0.4,21.7],"nice":false,"zero":false},"axis":{"orient":"top","values":[0,5,10,15,20],"tickSize":-6,"labels":false,"title":null}},
"y":{"field":"v","type":"quantitative","scale":{"domain":[1.7,3.42],"nice":false,"zero":false},"axis":{"orient":"right","values":[2,2.5,3],"tickSize":-6,"labelPadding":13,"format":"~r","title":"<Fe> [Å]","titleFontSize":13,"titleX":27}},
"yError":{"field":"e"}}},
{"transform":[{"filter":"datum.p==='Fe'&&datum.t==='c'"}],"mark":{"type":"point","shape":"circle","filled":true,"size":33,"color":"black","opacity":1},
"encoding":{"x":{"field":"r","type":"quantitative","scale":{"domain":[-0.4,21.7],"nice":false,"zero":false},"axis":{"orient":"bottom","values":[0,1,2,3,4,5,6,7,8,9,10,11,12,13,14,15,16,17,18,19,20,21],"tickSize":-3,"labels":false,"title":null}},
"y":{"field":"v","type":"quantitative","scale":{"domain":[1.7,3.42],"nice":false,"zero":false},"axis":{"orient":"left","values":[1.8,1.9,2.1,2.2,2.3,2.4,2.6,2.7,2.8,2.9,3.1,3.2,3.3,3.4],"tickSize":-3,"labels":false,"title":null}}}},
{"transform":[{"filter":"datum.p==='Fe'&&datum.t==='s'"}],"mark":{"type":"point","shape":"M0,-1L0.235,-0.324L0.951,-0.309L0.38,0.124L0.588,0.809L0,0.4L-0.588,0.809L-0.38,0.124L-0.951,-0.309L-0.235,-0.324Z","filled":true,"size":28,"color":"black","opacity":1},
"encoding":{"x":{"field":"r","type":"quantitative","scale":{"domain":[-0.4,21.7],"nice":false,"zero":false},"axis":{"orient":"top","values":[0,1,2,3,4,5,6,7,8,9,10,11,12,13,14,15,16,17,18,19,20,21],"tickSize":-3,"labels":false,"title":null}},
"y":{"field":"v","type":"quantitative","scale":{"domain":[1.7,3.42],"nice":false,"zero":false},"axis":{"orient":"right","values":[1.8,1.9,2.1,2.2,2.3,2.4,2.6,2.7,2.8,2.9,3.1,3.2,3.3,3.4],"tickSize":-3,"labels":false,"title":null}}}},
{"data":{"values":[{}]},"mark":{"type":"rule","strokeDash":[1.5,2.5],"color":"black","strokeWidth":1},"encoding":{"x":{"datum":7.3,"type":"quantitative","scale":{"domain":[-0.4,21.7],"nice":false,"zero":false},"axis":null}}}
],
"resolve":{"axis":{"x":"independent","y":"independent"}}},
{"width":205,"height":85.6,
"layer":[
{"transform":[{"filter":"datum.p==='Mgb'&&datum.t==='c'"}],"mark":{"type":"errorbar","ticks":false,"color":"#555","thickness":1.5},
"encoding":{"x":{"field":"r","type":"quantitative","scale":{"domain":[-0.4,21.7],"nice":false,"zero":false},"axis":{"orient":"bottom","values":[0,5,10,15,20],"tickSize":-6,"labels":false,"title":null}},
"y":{"field":"v","type":"quantitative","scale":{"domain":[1.58,5.05],"nice":false,"zero":false},"axis":{"orient":"left","values":[2,3,4,5],"tickSize":-6,"labels":false,"title":null}},
"yError":{"field":"e"}}},
{"transform":[{"filter":"datum.p==='Mgb'&&datum.t==='s'"}],"mark":{"type":"errorbar","ticks":false,"color":"#555","thickness":1.5},
"encoding":{"x":{"field":"r","type":"quantitative","scale":{"domain":[-0.4,21.7],"nice":false,"zero":false},"axis":{"orient":"top","values":[0,5,10,15,20],"tickSize":-6,"labels":false,"title":null}},
"y":{"field":"v","type":"quantitative","scale":{"domain":[1.58,5.05],"nice":false,"zero":false},"axis":{"orient":"right","values":[2,3,4],"tickSize":-6,"labelPadding":13,"format":"~r","title":"Mgb [Å]","titleFontSize":13,"titleX":27}},
"yError":{"field":"e"}}},
{"transform":[{"filter":"datum.p==='Mgb'&&datum.t==='c'"}],"mark":{"type":"point","shape":"circle","filled":true,"size":33,"color":"black","opacity":1},
"encoding":{"x":{"field":"r","type":"quantitative","scale":{"domain":[-0.4,21.7],"nice":false,"zero":false},"axis":{"orient":"bottom","values":[0,1,2,3,4,5,6,7,8,9,10,11,12,13,14,15,16,17,18,19,20,21],"tickSize":-3,"labels":false,"title":null}},
"y":{"field":"v","type":"quantitative","scale":{"domain":[1.58,5.05],"nice":false,"zero":false},"axis":{"orient":"left","values":[1.8,2.2,2.4,2.6,2.8,3.2,3.4,3.6,3.8,4.2,4.4,4.6,4.8],"tickSize":-3,"labels":false,"title":null}}}},
{"transform":[{"filter":"datum.p==='Mgb'&&datum.t==='s'"}],"mark":{"type":"point","shape":"M0,-1L0.235,-0.324L0.951,-0.309L0.38,0.124L0.588,0.809L0,0.4L-0.588,0.809L-0.38,0.124L-0.951,-0.309L-0.235,-0.324Z","filled":true,"size":28,"color":"black","opacity":1},
"encoding":{"x":{"field":"r","type":"quantitative","scale":{"domain":[-0.4,21.7],"nice":false,"zero":false},"axis":{"orient":"top","values":[0,1,2,3,4,5,6,7,8,9,10,11,12,13,14,15,16,17,18,19,20,21],"tickSize":-3,"labels":false,"title":null}},
"y":{"field":"v","type":"quantitative","scale":{"domain":[1.58,5.05],"nice":false,"zero":false},"axis":{"orient":"right","values":[1.8,2.2,2.4,2.6,2.8,3.2,3.4,3.6,3.8,4.2,4.4,4.6,4.8,5],"tickSize":-3,"labels":false,"title":null}}}},
{"data":{"values":[{}]},"mark":{"type":"rule","strokeDash":[1.5,2.5],"color":"black","strokeWidth":1},"encoding":{"x":{"datum":7.3,"type":"quantitative","scale":{"domain":[-0.4,21.7],"nice":false,"zero":false},"axis":null}}}
],
"resolve":{"axis":{"x":"independent","y":"independent"}}},
{"width":205,"height":85.6,
"layer":[
{"transform":[{"filter":"datum.p==='Mg2'&&datum.t==='c'"}],"mark":{"type":"errorbar","ticks":false,"color":"#555","thickness":1.5},
"encoding":{"x":{"field":"r","type":"quantitative","scale":{"domain":[-0.4,21.7],"nice":false,"zero":false},"axis":{"orient":"bottom","values":[0,5,10,15,20],"tickSize":-6,"labelPadding":10,"format":"~r","title":"r [arcsec]","titlePadding":2}},
"y":{"field":"v","type":"quantitative","scale":{"domain":[0.15,0.292],"nice":false,"zero":false},"axis":{"orient":"left","values":[0.15,0.2,0.25],"tickSize":-6,"labels":false,"title":null}},
"yError":{"field":"e"}}},
{"transform":[{"filter":"datum.p==='Mg2'&&datum.t==='s'"}],"mark":{"type":"errorbar","ticks":false,"color":"#555","thickness":1.5},
"encoding":{"x":{"field":"r","type":"quantitative","scale":{"domain":[-0.4,21.7],"nice":false,"zero":false},"axis":{"orient":"top","values":[0,5,10,15,20],"tickSize":-6,"labels":false,"title":null}},
"y":{"field":"v","type":"quantitative","scale":{"domain":[0.15,0.292],"nice":false,"zero":false},"axis":{"orient":"right","values":[0.15,0.2,0.25],"tickSize":-6,"labelPadding":13,"format":"~r","title":"Mg₂ [mag]","titleFontSize":13,"titleX":27}},
"yError":{"field":"e"}}},
{"transform":[{"filter":"datum.p==='Mg2'&&datum.t==='c'"}],"mark":{"type":"point","shape":"circle","filled":true,"size":33,"color":"black","opacity":1},
"encoding":{"x":{"field":"r","type":"quantitative","scale":{"domain":[-0.4,21.7],"nice":false,"zero":false},"axis":{"orient":"bottom","values":[0,1,2,3,4,5,6,7,8,9,10,11,12,13,14,15,16,17,18,19,20,21],"tickSize":-3,"labels":false,"title":null}},
"y":{"field":"v","type":"quantitative","scale":{"domain":[0.15,0.292],"nice":false,"zero":false},"axis":{"orient":"left","values":[0.16,0.17,0.18,0.19,0.21,0.22,0.23,0.24,0.26,0.27,0.28,0.29],"tickSize":-3,"labels":false,"title":null}}}},
{"transform":[{"filter":"datum.p==='Mg2'&&datum.t==='s'"}],"mark":{"type":"point","shape":"M0,-1L0.235,-0.324L0.951,-0.309L0.38,0.124L0.588,0.809L0,0.4L-0.588,0.809L-0.38,0.124L-0.951,-0.309L-0.235,-0.324Z","filled":true,"size":28,"color":"black","opacity":1},
"encoding":{"x":{"field":"r","type":"quantitative","scale":{"domain":[-0.4,21.7],"nice":false,"zero":false},"axis":{"orient":"top","values":[0,1,2,3,4,5,6,7,8,9,10,11,12,13,14,15,16,17,18,19,20,21],"tickSize":-3,"labels":false,"title":null}},
"y":{"field":"v","type":"quantitative","scale":{"domain":[0.15,0.292],"nice":false,"zero":false},"axis":{"orient":"right","values":[0.16,0.17,0.18,0.19,0.21,0.22,0.23,0.24,0.26,0.27,0.28,0.29],"tickSize":-3,"labels":false,"title":null}}}},
{"data":{"values":[{}]},"mark":{"type":"rule","strokeDash":[1.5,2.5],"color":"black","strokeWidth":1},"encoding":{"x":{"datum":7.3,"type":"quantitative","scale":{"domain":[-0.4,21.7],"nice":false,"zero":false},"axis":null}}}
],
"resolve":{"axis":{"x":"independent","y":"independent"}}}
]}
],
"config":{
"view":{"stroke":"black","strokeWidth":1.5},
"axis":{"domain":false,"grid":false,"tickColor":"black","tickWidth":1,"labelFont":"Liberation Sans","labelFontSize":9,"labelFontWeight":"bold","labelColor":"black","titleFont":"Liberation Mono","titleFontSize":14,"titleFontWeight":"normal","titleColor":"black"}
}
}
